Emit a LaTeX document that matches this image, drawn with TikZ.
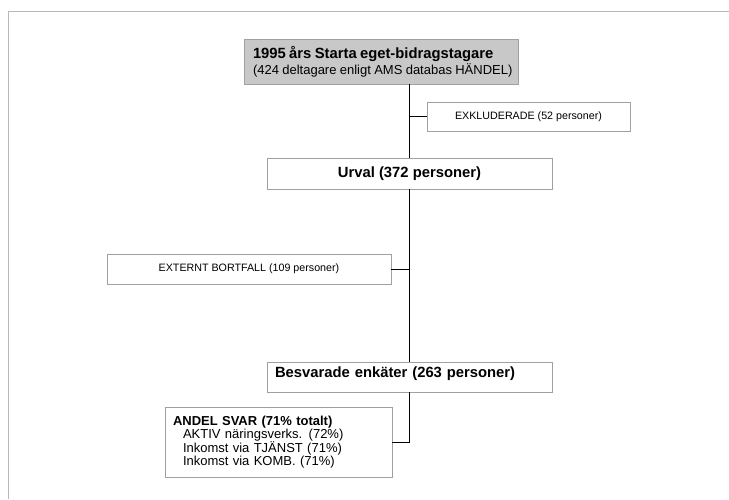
\documentclass[tikz,border=0pt]{standalone}
\usepackage{fontspec}
\setmainfont{Liberation Sans}
\usetikzlibrary{positioning}
\definecolor{boxgray}{HTML}{A0A0A0}
\definecolor{headfill}{HTML}{C8C8C8}
\definecolor{framegray}{HTML}{B8B8B8}
\tikzset{
  box/.style={draw=boxgray, fill=white, line width=0.8pt, inner sep=0pt, minimum height=30pt},
  smallbox/.style={box, font=\fontsize{10.7}{12}\selectfont},
  bigbox/.style={box, font=\fontsize{14.8}{17}\selectfont\bfseries},
  link/.style={black, line width=0.9pt}
}
\begin{document}
\begin{tikzpicture}[x=1pt, y=-1pt]
  \useasboundingbox (0,0) rectangle (729,499);
  % ram
  \draw[framegray, line width=1.6pt] (8.5,499) |- (729,11.5);
  % rutor
  \node[box, fill=headfill, minimum width=274pt, minimum height=45pt, text width=256pt, align=left] (start) at (381,61.5)
    {\mbox{\fontsize{14.8}{17}\selectfont\bfseries 1995 års Starta eget-bidragstagare}\\[1pt]
     \mbox{\fontsize{13}{15}\selectfont (424 deltagare enligt AMS databas HÄNDEL)}};
  \node[smallbox, minimum width=203pt, minimum height=29pt] (exkl) at (528.5,116.5) {EXKLUDERADE (52 personer)};
  \node[bigbox, minimum width=285pt, minimum height=31pt] (urval) at (409.5,173.5) {Urval (372 personer)};
  \node[smallbox, minimum width=284pt] (bortfall) at (249,269) {EXTERNT BORTFALL (109 personer)};
  \node[bigbox, minimum width=285pt, text width=269pt, align=left] (svar) at (409.5,377) {Besvarade enkäter (263 personer)\vphantom{g}\\[-8pt]\mbox{}};
  \node[box, minimum width=227pt, minimum height=70pt, text width=211pt, align=left,
        font=\fontsize{13}{12.8}\selectfont] (andel) at (278.5,442)
    {\textbf{ANDEL SVAR (71\% totalt)}\\
     \hspace*{10pt}AKTIV näringsverks. (72\%)\\
     \hspace*{10pt}Inkomst via TJÄNST (71\%)\\
     \hspace*{10pt}Inkomst via KOMB. (71\%)};
  % linjer
  \draw[link] (start.south -| urval.north) -- (urval.north);
  \draw[link] (exkl.west) -- (exkl.west -| urval.north);
  \draw[link] (urval.south) -- (svar.north);
  \draw[link] (bortfall.east) -- (bortfall.east -| urval.south);
  \draw[link] (svar.south) |- (andel.east);
\end{tikzpicture}
\end{document}
